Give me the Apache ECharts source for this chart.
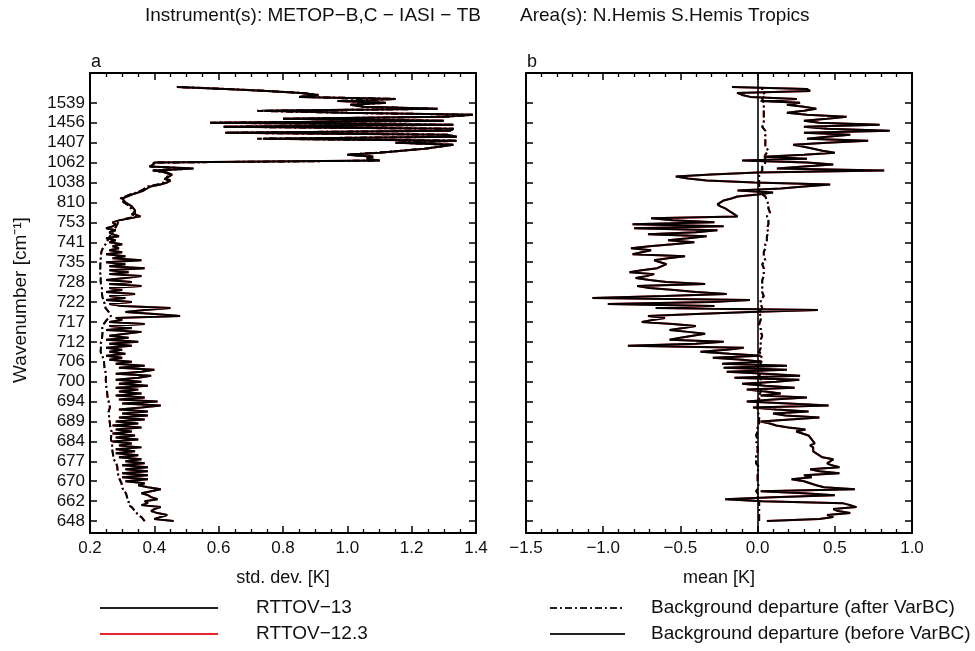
<!DOCTYPE html>
<html>
<head>
<meta charset="utf-8">
<script src="https://cdn.jsdelivr.net/npm/echarts@6/dist/echarts.min.js"></script>
<style>
  html, body { margin: 0; padding: 0; background: #ffffff; }
  #chart { width: 975px; height: 651px; }
</style>
</head>
<body>
<div id="chart"></div>
<script>
// Wavenumber labels placed every 10 channels (channel index 0, 10, ..., 210)
const wavenumberTicks = [648, 662, 670, 677, 684, 689, 694, 700, 706, 712, 717, 722,
  728, 735, 741, 753, 810, 1038, 1062, 1407, 1456, 1539];
const channelFirst = -6;   // lower end of the channel axis
const channelLast = 225;   // upper end of the channel axis

// Panel a: standard deviation of background departures [K], by channel index 0..218
const stdBefore = [
  0.46, 0.40, 0.42, 0.44, 0.41, 0.39, 0.40, 0.42, 0.36, 0.38,
  0.37, 0.41, 0.39, 0.38, 0.36, 0.36, 0.42, 0.38, 0.35, 0.37,
  0.31, 0.38, 0.30, 0.38, 0.30, 0.38, 0.31, 0.38, 0.30, 0.37,
  0.31, 0.36, 0.29, 0.35, 0.28, 0.34, 0.28, 0.36, 0.29, 0.33,
  0.27, 0.35, 0.28, 0.34, 0.27, 0.33, 0.28, 0.36, 0.27, 0.35,
  0.28, 0.37, 0.29, 0.38, 0.30, 0.38, 0.29, 0.36, 0.42, 0.30,
  0.41, 0.29, 0.37, 0.28, 0.36, 0.29, 0.35, 0.28, 0.38, 0.29,
  0.36, 0.28, 0.35, 0.39, 0.28, 0.36, 0.40, 0.29, 0.37, 0.28,
  0.33, 0.26, 0.30, 0.25, 0.31, 0.26, 0.30, 0.25, 0.33, 0.26,
  0.35, 0.25, 0.32, 0.26, 0.31, 0.36, 0.25, 0.33, 0.26, 0.37,
  0.26, 0.30, 0.28, 0.48, 0.40, 0.31, 0.37, 0.45, 0.30, 0.26,
  0.33, 0.25, 0.31, 0.26, 0.34, 0.25, 0.30, 0.26, 0.36, 0.26,
  0.33, 0.25, 0.31, 0.36, 0.26, 0.32, 0.26, 0.37, 0.26, 0.31,
  0.25, 0.36, 0.27, 0.31, 0.25, 0.30, 0.26, 0.29, 0.27, 0.30,
  0.26, 0.28, 0.25, 0.29, 0.27, 0.26, 0.28, 0.25, 0.27, 0.28,
  0.27, 0.29, 0.294, 0.357, 0.34, 0.346, 0.34, 0.336, 0.33, 0.32,
  0.31, 0.305, 0.30, 0.294, 0.33, 0.35, 0.367, 0.37, 0.388, 0.419,
  0.44, 0.45, 0.434, 0.445, 0.455, 0.44, 0.398, 0.522, 0.388, 0.395,
  0.403, 1.10, 1.06, 1.08, 1.00, 1.10, 1.17, 1.24, 1.24, 1.33,
  1.15, 1.34, 0.74, 1.34, 1.31, 0.62, 1.32, 1.33, 0.615, 1.33,
  0.574, 1.30, 0.80, 1.30, 1.39, 1.00, 0.74, 1.28, 1.05, 1.01,
  1.12, 0.97, 1.15, 0.85, 0.91, 0.855, 0.75, 0.62, 0.47
];
const stdAfter = [
  0.37, 0.366, 0.36, 0.35, 0.345, 0.34, 0.335, 0.33, 0.32, 0.325,
  0.32, 0.325, 0.315, 0.31, 0.312, 0.305, 0.308, 0.30, 0.305, 0.298,
  0.295, 0.292, 0.294, 0.288, 0.29, 0.286, 0.284, 0.285, 0.28, 0.282,
  0.278, 0.274, 0.276, 0.272, 0.271, 0.27, 0.273, 0.268, 0.268, 0.27,
  0.267, 0.265, 0.268, 0.266, 0.265, 0.267, 0.264, 0.263, 0.266, 0.262,
  0.263, 0.26, 0.262, 0.259, 0.261, 0.258, 0.26, 0.262, 0.263, 0.26,
  0.258, 0.256, 0.257, 0.254, 0.255, 0.253, 0.254, 0.251, 0.252, 0.25,
  0.251, 0.249, 0.248, 0.25, 0.247, 0.248, 0.246, 0.245, 0.243, 0.244,
  0.242, 0.243, 0.24, 0.238, 0.236, 0.233, 0.232, 0.234, 0.235, 0.233,
  0.236, 0.237, 0.236, 0.238, 0.237, 0.239, 0.24, 0.238, 0.241, 0.243,
  0.248, 0.252, 0.258, 0.265, 0.262, 0.258, 0.252, 0.248, 0.245, 0.246,
  0.243, 0.241, 0.24, 0.238, 0.239, 0.237, 0.236, 0.237, 0.235, 0.234,
  0.236, 0.233, 0.232, 0.234, 0.232, 0.231, 0.233, 0.232, 0.23, 0.232,
  0.231, 0.233, 0.232, 0.234, 0.232, 0.235, 0.237, 0.24, 0.244, 0.248,
  0.252, 0.255, 0.258, 0.262, 0.266, 0.27, 0.274, 0.278, 0.282, 0.285,
  0.288, 0.29, 0.292, 0.345, 0.33, 0.338, 0.332, 0.328, 0.322, 0.315,
  0.305, 0.30, 0.295, 0.29, 0.325, 0.345, 0.36, 0.365, 0.38, 0.41,
  0.43, 0.445, 0.43, 0.44, 0.45, 0.435, 0.395, 0.51, 0.385, 0.39,
  0.40, 1.10, 1.06, 1.08, 1.00, 1.10, 1.17, 1.24, 1.24, 1.33,
  1.15, 1.34, 0.72, 1.34, 1.31, 0.62, 1.32, 1.33, 0.615, 1.33,
  0.574, 1.30, 0.80, 1.30, 1.39, 1.00, 0.72, 1.28, 1.05, 1.01,
  1.12, 0.97, 1.15, 0.85, 0.91, 0.855, 0.75, 0.62, 0.47
];

// Panel b: mean background departure [K], by channel index 0..218
const meanBefore = [
  0.06, 0.40, 0.49, 0.45, 0.60, 0.52, 0.49, 0.64, 0.60, 0.55,
  0.03, -0.21, 0.10, 0.50, 0.30, 0.02, 0.63, 0.43, 0.38, 0.34,
  0.30, 0.22, 0.35, 0.30, 0.53, 0.40, 0.34, 0.53, 0.48, 0.45,
  0.47, 0.49, 0.42, 0.40, 0.38, 0.36, 0.37, 0.36, 0.34, 0.37,
  0.38, 0.35, 0.36, 0.33, 0.34, 0.25, 0.31, 0.20, 0.12, 0.08,
  0.02, 0.03, 0.40, 0.18, 0.10, 0.33, 0.12, -0.03, 0.46, 0.20,
  -0.07, 0.10, 0.32, 0.02, 0.15, 0.05, -0.07, 0.24, 0.05, -0.10,
  0.12, 0.27, -0.15, 0.275, 0.05, -0.20, 0.19, -0.22, 0.19, -0.23,
  0.03, -0.10, -0.29, 0.02, -0.18, -0.37, -0.20, -0.09, -0.84, -0.40,
  -0.22, -0.57, -0.50, -0.42, -0.34, -0.45, -0.57, -0.48, -0.40, -0.55,
  -0.75, -0.68, -0.60, -0.71, -0.40, -0.05, 0.39, -0.66, -0.28, -0.97,
  -0.30, -0.05, -1.07, -0.60, -0.20, -0.40, -0.54, -0.70, -0.78, -0.34,
  -0.59, -0.70, -0.79, -0.72, -0.67, -0.83, -0.75, -0.65, -0.62, -0.59,
  -0.63, -0.67, -0.58, -0.47, -0.81, -0.75, -0.69, -0.82, -0.70, -0.55,
  -0.41, -0.58, -0.45, -0.33, -0.71, -0.40, -0.26, -0.80, -0.22, -0.81,
  -0.28, -0.55, -0.69, -0.13, -0.15, -0.17, -0.18, -0.21, -0.24, -0.26,
  -0.26, -0.22, -0.17, -0.13, 0.00, 0.10, -0.13, 0.15, 0.30, 0.47,
  -0.02, -0.33, -0.45, -0.53, -0.30, 0.00, 0.82, 0.125, 0.30, 0.49,
  0.32, -0.10, 0.32, 0.04, 0.30, 0.50, 0.42, 0.36, 0.30, 0.23,
  0.45, 0.716, 0.32, 0.45, 0.60, 0.30, 0.856, 0.45, 0.30, 0.79,
  0.40, 0.30, 0.45, 0.576, 0.32, 0.19, 0.30, 0.38, 0.30, 0.19,
  0.275, 0.02, 0.254, -0.047, -0.10, -0.133, 0.34, 0.318, -0.166
];
const meanAfter = [
  0.01, 0.00, 0.01, 0.02, 0.01, 0.00, 0.01, 0.02, 0.01, 0.00,
  0.01, -0.01, 0.00, 0.01, 0.00, -0.01, 0.00, 0.01, 0.00, 0.00,
  -0.01, 0.00, 0.01, 0.00, -0.01, 0.00, 0.00, 0.01, 0.00, -0.01,
  0.00, -0.01, 0.00, -0.01, -0.01, 0.00, -0.01, 0.00, 0.00, -0.01,
  0.00, 0.00, -0.01, -0.01, 0.00, 0.00, -0.01, 0.00, 0.00, 0.01,
  0.00, 0.01, 0.00, 0.01, 0.00, 0.00, 0.01, 0.00, 0.01, 0.00,
  0.01, 0.01, 0.02, 0.01, 0.02, 0.02, 0.01, 0.02, 0.03, 0.02,
  0.01, 0.02, 0.02, 0.01, 0.02, 0.03, 0.02, 0.02, 0.01, 0.02,
  0.02, 0.01, 0.02, 0.03, 0.02, 0.01, 0.02, 0.02, 0.03, 0.02,
  0.01, 0.02, 0.02, 0.03, 0.02, 0.02, 0.01, 0.02, 0.02, 0.01,
  0.02, 0.02, 0.01, 0.02, 0.02, 0.01, 0.02, 0.03, 0.02, 0.02,
  0.03, 0.02, 0.03, 0.04, 0.03, 0.03, 0.04, 0.03, 0.02, 0.03,
  0.04, 0.03, 0.03, 0.04, 0.05, 0.04, 0.03, 0.04, 0.04, 0.03,
  0.04, 0.05, 0.04, 0.04, 0.03, 0.04, 0.05, 0.05, 0.04, 0.05,
  0.05, 0.06, 0.05, 0.06, 0.06, 0.07, 0.06, 0.06, 0.07, 0.07,
  0.06, 0.07, 0.07, 0.06, 0.07, 0.08, 0.07, 0.07, 0.06, 0.07,
  0.07, 0.06, 0.06, 0.05, 0.03, 0.02, 0.01, 0.00, 0.01, 0.00,
  0.01, 0.00, 0.01, 0.02, 0.01, 0.02, 0.03, 0.02, 0.03, 0.04,
  0.05, 0.04, 0.05, 0.06, 0.05, 0.06, 0.07, 0.06, 0.05, 0.06,
  0.05, 0.04, 0.05, 0.06, 0.05, 0.04, 0.05, 0.04, 0.03, 0.04,
  0.04, 0.05, 0.04, 0.03, 0.04, 0.03, 0.04, 0.05, 0.04, 0.03,
  0.04, 0.04, 0.03, 0.04, 0.05, 0.04, 0.03, 0.04, 0.03
];

const FONT = '"Liberation Sans", Arial, Helvetica, sans-serif';
const INK = '#111111';
const RED = '#e8262a';
const DASH_DOT = [7, 3, 2, 3];

const channels = [];
for (let c = channelFirst; c <= channelLast; c++) channels.push(String(c));

const isTickChannel = (index, value) => {
  const n = Number(value);
  return n >= 0 && n <= (wavenumberTicks.length - 1) * 10 && n % 10 === 0;
};

const toPairs = (arr) => arr.map((v, i) => [v, String(i)]);

const minusFmt = (v) => (v < -1e-9 ? '\u2212' + Math.abs(v).toFixed(1) : Math.abs(v).toFixed(1));

function xAxisCfg(gridIndex, position, min, max, interval, minorSplit, showLabels) {
  return {
    type: 'value', gridIndex, position, min, max, interval,
    axisLine: { show: true, onZero: false, lineStyle: { color: '#000', width: 2 } },
    axisTick: { show: true, inside: true, length: 7, lineStyle: { color: '#000', width: 1.5 } },
    minorTick: { show: true, splitNumber: minorSplit, length: 4, lineStyle: { color: '#000', width: 1.3 } },
    splitLine: { show: false },
    minorSplitLine: { show: false },
    axisLabel: {
      show: showLabels, margin: 7, color: INK, fontFamily: FONT, fontSize: 17,
      formatter: minusFmt
    }
  };
}

function yAxisCfg(gridIndex, position, showLabels) {
  return {
    type: 'category', gridIndex, position, data: channels, boundaryGap: false,
    axisLine: { show: true, onZero: false, lineStyle: { color: '#000', width: 2 } },
    axisTick: { show: true, inside: true, length: 7, interval: isTickChannel,
      lineStyle: { color: '#000', width: 1.5 } },
    splitLine: { show: false },
    axisLabel: {
      show: showLabels, interval: isTickChannel, margin: 5, color: INK,
      fontFamily: FONT, fontSize: 17,
      formatter: (value) => String(wavenumberTicks[Number(value) / 10])
    }
  };
}

function lineSeries(name, data, xi, yi, color, dashed, z) {
  return {
    name, type: 'line', xAxisIndex: xi, yAxisIndex: yi, data: toPairs(data),
    showSymbol: false, symbol: 'none', smooth: false, z,
    lineStyle: { color, width: 2, type: dashed ? DASH_DOT : 'solid' },
    animation: false, silent: true
  };
}

const text = (x, y, str, align, size, extra) => Object.assign({
  type: 'text', x, y, silent: true,
  style: { text: str, fill: INK, font: `${size}px ${FONT}`, textAlign: align, textVerticalAlign: 'middle' }
}, extra || {});

const seg = (x1, y1, x2, y2, color, dash) => ({
  type: 'line', silent: true,
  shape: { x1, y1, x2, y2 },
  style: { stroke: color, lineWidth: 2, lineDash: dash || null }
});

const chart = echarts.init(document.getElementById('chart'), null, { renderer: 'canvas' });

const zeroLine = {
  silent: true, symbol: 'none', animation: false,
  label: { show: false },
  lineStyle: { color: '#000', type: 'solid', width: 1.6 },
  data: [{ xAxis: 0 }]
};

const meanBeforeBlack = lineSeries('RTTOV-13 mean before', meanBefore, 2, 2, '#000', false, 4);
meanBeforeBlack.markLine = zeroLine;

chart.setOption({
  backgroundColor: '#ffffff',
  animation: false,
  grid: [
    { left: 90, top: 73, width: 386, height: 460 },
    { left: 526, top: 73, width: 386, height: 460 }
  ],
  xAxis: [
    xAxisCfg(0, 'bottom', 0.2, 1.4, 0.2, 4, true),
    xAxisCfg(0, 'top', 0.2, 1.4, 0.2, 4, false),
    xAxisCfg(1, 'bottom', -1.5, 1.0, 0.5, 5, true),
    xAxisCfg(1, 'top', -1.5, 1.0, 0.5, 5, false)
  ],
  yAxis: [
    yAxisCfg(0, 'left', true),
    yAxisCfg(0, 'right', false),
    yAxisCfg(1, 'left', false),
    yAxisCfg(1, 'right', false)
  ],
  series: [
    lineSeries('RTTOV-12.3 std after', stdAfter, 0, 0, RED, true, 2),
    lineSeries('RTTOV-12.3 std before', stdBefore, 0, 0, RED, false, 2),
    lineSeries('RTTOV-13 std after', stdAfter, 0, 0, '#000', true, 3),
    lineSeries('RTTOV-13 std before', stdBefore, 0, 0, '#000', false, 4),
    lineSeries('RTTOV-12.3 mean after', meanAfter, 2, 2, RED, true, 2),
    lineSeries('RTTOV-12.3 mean before', meanBefore, 2, 2, RED, false, 2),
    lineSeries('RTTOV-13 mean after', meanAfter, 2, 2, '#000', true, 3),
    meanBeforeBlack
  ],
  graphic: [
    text(145, 16, 'Instrument(s): METOP\u2212B,C \u2212 IASI \u2212 TB', 'left', 19),
    text(520, 16, 'Area(s): N.Hemis S.Hemis Tropics', 'left', 19),
    text(91, 62, 'a', 'left', 18),
    text(527, 62, 'b', 'left', 18),
    text(21, 300, 'Wavenumber [cm\u207B\u00B9]', 'center', 19, { rotation: Math.PI / 2 }),
    text(283, 578, 'std. dev. [K]', 'center', 18),
    text(719, 578, 'mean [K]', 'center', 18),
    seg(100, 608, 218, 608, '#222'),
    seg(100, 634, 218, 634, RED),
    text(256, 608, 'RTTOV\u221213', 'left', 19),
    text(256, 634, 'RTTOV\u221212.3', 'left', 19),
    seg(550, 608, 625, 608, '#222', DASH_DOT),
    seg(550, 634, 625, 634, '#222'),
    text(651, 608, 'Background departure (after VarBC)', 'left', 19),
    text(651, 634, 'Background departure (before VarBC)', 'left', 19)
  ]
});
</script>
</body>
</html>
